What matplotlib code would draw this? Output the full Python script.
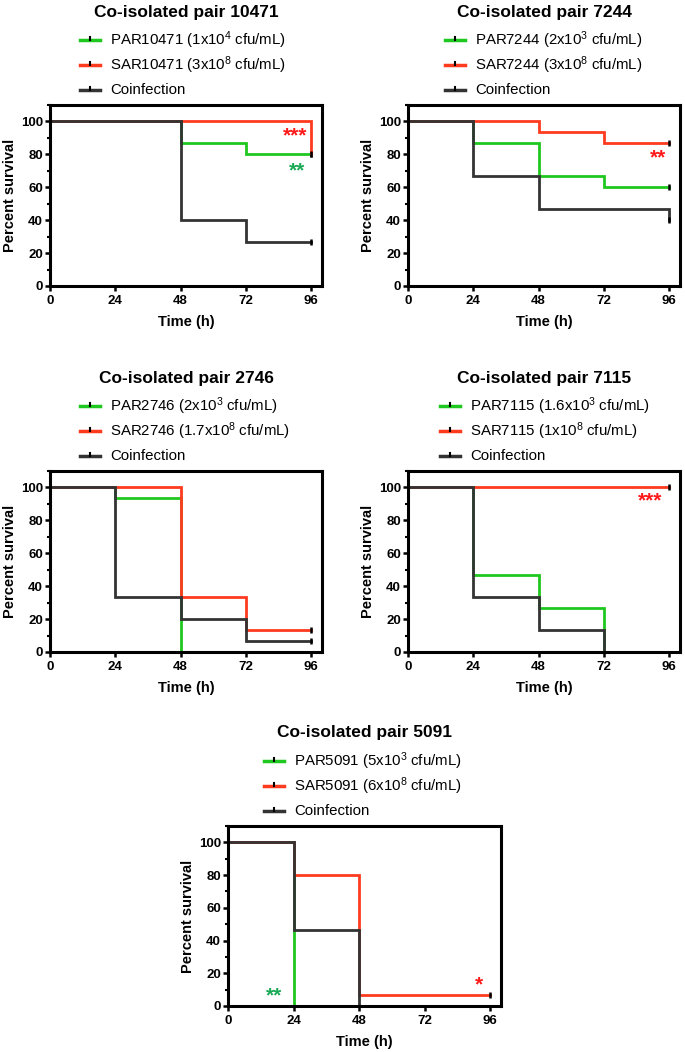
import numpy as np
import matplotlib.pyplot as plt
from matplotlib.lines import Line2D
from matplotlib.ticker import MultipleLocator

plt.rcParams['font.family'] = ['Liberation Sans', 'DejaVu Sans']
plt.rcParams['mathtext.fontset'] = 'custom'
plt.rcParams['mathtext.rm'] = 'Liberation Sans'
plt.rcParams['mathtext.default'] = 'regular'

# Kaplan-Meier step data (time, percent survival) per co-isolated pair
pairs = ['10471', '7244', '2746', '7115', '5091']

par_labels = ['PAR10471 (1x10$^4$ cfu/mL)', 'PAR7244 (2x10$^3$ cfu/mL)',
              'PAR2746 (2x10$^3$ cfu/mL)', 'PAR7115 (1.6x10$^3$ cfu/mL)',
              'PAR5091 (5x10$^3$ cfu/mL)']
sar_labels = ['SAR10471 (3x10$^8$ cfu/mL)', 'SAR7244 (3x10$^8$ cfu/mL)',
              'SAR2746 (1.7x10$^8$ cfu/mL)', 'SAR7115 (1x10$^8$ cfu/mL)',
              'SAR5091 (6x10$^8$ cfu/mL)']

par_t = [[0, 48, 72, 96], [0, 24, 48, 72, 96], [0, 24, 48], [0, 24, 48, 72], [0, 24]]
par_s = [[100, 86.7, 80, 80], [100, 86.7, 66.7, 60, 60], [100, 93.3, 0], [100, 46.7, 26.7, 0], [100, 0]]

sar_t = [[0, 96], [0, 48, 72, 96], [0, 48, 72, 96], [0, 96], [0, 24, 48, 96]]
sar_s = [[100, 80], [100, 93.3, 86.7, 86.7], [100, 33.3, 13.3, 13.3], [100, 100], [100, 80, 6.7, 6.7]]

coi_t = [[0, 48, 72, 96], [0, 24, 48, 96], [0, 24, 48, 72, 96], [0, 24, 48, 72], [0, 24, 48]]
coi_s = [[100, 40, 26.7, 26.7], [100, 66.7, 46.7, 40], [100, 33.3, 20, 6.7, 6.7], [100, 33.3, 13.3, 0], [100, 46.7, 0]]

# significance marks: (text, x, y, color)
stars = [
    [('***', 90, 91, 'red'), ('**', 91, 70, 'green')],
    [('**', 92, 78, 'red')],
    [],
    [('***', 89, 92, 'red')],
    [('**', 17, 6, 'green'), ('*', 92, 13, 'red')],
]

GREEN = '#1ec81e'
RED = '#ff3b1f'
BLACK = '#333333'
STAR = {'red': '#ff1a1a', 'green': '#1aaa55'}

W, H = 685, 1052
fig = plt.figure(figsize=(W / 100, H / 100), dpi=100)

# axes boxes in pixels: left, top, right, bottom; legend handle start x
boxes = [(50, 105, 322, 286), (408, 105, 680, 286),
         (50, 471, 322, 652), (408, 471, 680, 652),
         (228, 826, 501, 1006)]
leg_x = [80, 445, 80, 440, 264]

for i, (l, t, r, b) in enumerate(boxes):
    ax = fig.add_axes([l / W, 1 - b / H, (r - l) / W, (b - t) / H])
    for tt, ss, c in [(par_t[i], par_s[i], GREEN), (sar_t[i], sar_s[i], RED),
                      (coi_t[i], coi_s[i], BLACK)]:
        ax.step(tt, ss, where='post', color=c, lw=2, solid_joinstyle='miter')
        if ss[-1] > 0:
            ax.plot(tt[-1], ss[-1], marker='|', ms=5, mew=1.8, color='black')
    for txt, x, y, c in stars[i]:
        ax.text(x, y, txt, color=STAR[c], fontsize=15, fontweight='bold',
                ha='center', va='center')
    ax.set_xlim(0, 100)
    ax.set_ylim(0, 110)
    ax.set_xticks([0, 24, 48, 72, 96])
    ax.set_yticks([0, 20, 40, 60, 80, 100])
    ax.yaxis.set_minor_locator(MultipleLocator(10))
    ax.tick_params(which='major', direction='out', length=3.5, width=1.8,
                   labelsize=9.5, pad=1.5)
    ax.tick_params(which='major', axis='x', pad=3)
    ax.tick_params(which='minor', axis='y', direction='out', length=2.5, width=1.5)
    for lab in ax.get_xticklabels() + ax.get_yticklabels():
        lab.set_fontweight('bold')
    for sp in ax.spines.values():
        sp.set_linewidth(2.2)
    ax.set_xlabel('Time (h)', fontsize=10.5, fontweight='bold', labelpad=6)
    ax.set_ylabel('Percent survival', fontsize=10.5, fontweight='bold', labelpad=3)

    # legend rows drawn above the axes
    labels = [par_labels[i], sar_labels[i], 'Coinfection']
    for k, (c, lab) in enumerate(zip((GREEN, RED, BLACK), labels)):
        y = 1 - (t - 65 + 25 * k) / H
        x0 = leg_x[i]
        fig.add_artist(Line2D([x0 / W, (x0 + 20) / W], [y, y], color=c, lw=2.5))
        fig.add_artist(Line2D([(x0 + 10) / W] * 2, [y, y + 3 / H], color='black', lw=1.5))
        fig.text((x0 + 30) / W, y, lab, fontsize=10.8, ha='left', va='center')

    fig.text((l + r) / 2 / W, 1 - (t - 93) / H, 'Co-isolated pair ' + pairs[i],
             fontsize=12.5, fontweight='bold', ha='center', va='center')

plt.savefig('out.png', dpi=100)
